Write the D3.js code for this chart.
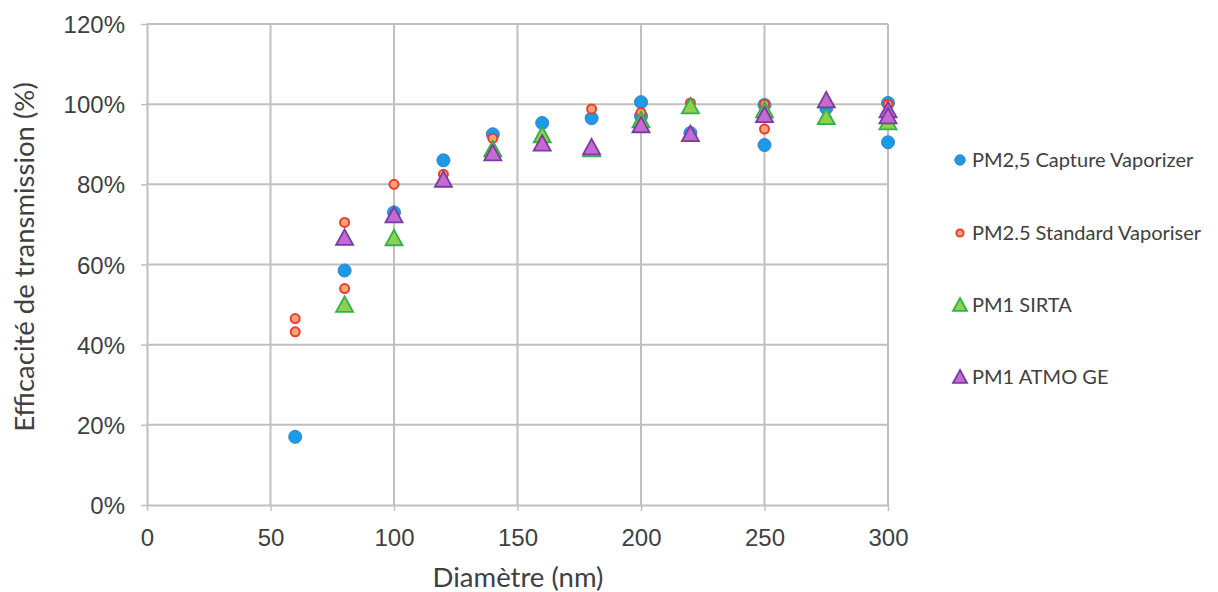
<!DOCTYPE html>
<html>
<head>
<meta charset="utf-8">
<script src="https://cdn.jsdelivr.net/npm/d3@7"></script>
<style>
  body { margin: 0; background: #fff; }
  svg { display: block; }
</style>
</head>
<body>
<div id="chart"></div>
<script>
// données (diamètre nm, efficacité %)
const captureX = [60, 80, 100, 120, 140, 160, 180, 200, 200, 220, 250, 250, 275, 300, 300];
const captureY = [17, 58.5, 73, 86, 92.5, 95.3, 96.5, 100.5, 97, 92.8, 99.8, 89.8, 99, 100.3, 90.5];

const standardX = [60, 60, 80, 80, 100, 120, 140, 180, 200, 220, 250, 250, 275, 300];
const standardY = [46.5, 43.2, 70.5, 54, 80, 82.5, 91.5, 98.8, 97.9, 100.3, 100, 93.8, 96.3, 100];

const sirtaX = [80, 100, 140, 160, 180, 200, 220, 250, 275, 300];
const sirtaY = [50, 66.6, 88.8, 92.3, 88.8, 96, 99.5, 98.5, 96.8, 95.5];

const atmoX = [80, 100, 120, 140, 160, 180, 200, 220, 250, 275, 300, 300];
const atmoY = [66.7, 72.3, 81.2, 87.8, 90.2, 89.3, 94.8, 92.6, 97.3, 101, 98.5, 97];

const xTicks = [0, 50, 100, 150, 200, 250, 300];
const yTicks = [0, 20, 40, 60, 80, 100, 120];

const series = [
    { name: "PM2,5 Capture Vaporizer", xs: captureX, ys: captureY, shape: "circle", r: 6.5, fill: "#1b9be6", stroke: "#3a7fd0" },
    { name: "PM2.5 Standard Vaporiser", xs: standardX, ys: standardY, shape: "circle", r: 4.5, fill: "#f2a875", stroke: "#f03a2e" },
    { name: "PM1 SIRTA", xs: sirtaX, ys: sirtaY, shape: "triangle", size: 17, fill: "#8fd14f", stroke: "#2fb24a" },
    { name: "PM1 ATMO GE", xs: atmoX, ys: atmoY, shape: "triangle", size: 17, fill: "#c46bd2", stroke: "#7a3a9e" }
];

const width = 1218;
const height = 592;
const margin = { left: 147, top: 24, right: 1218 - 888, bottom: 592 - 505 };

const svg = d3.select("#chart").append("svg")
    .attr("width", width)
    .attr("height", height);

const x = d3.scaleLinear().domain([0, 300]).range([margin.left, width - margin.right]);
const y = d3.scaleLinear().domain([0, 120]).range([height - margin.bottom, margin.top]);

const gridColor = "#c0c0c0";
const textColor = "#404040";
const titleFont = "Lato, 'Open Sans', sans-serif";

//Grille
svg.append("g")
    .selectAll("line")
    .data(xTicks.slice(1))
    .join("line")
    .attr("x1", d => x(d)).attr("x2", d => x(d))
    .attr("y1", y(120)).attr("y2", y(0))
    .attr("stroke", gridColor).attr("stroke-width", 2);

svg.append("g")
    .selectAll("line")
    .data(yTicks.slice(1))
    .join("line")
    .attr("x1", x(0)).attr("x2", x(300))
    .attr("y1", d => y(d)).attr("y2", d => y(d))
    .attr("stroke", gridColor).attr("stroke-width", 2);

//Axes
const xAxis = svg.append("g")
    .attr("transform", `translate(0,${y(0)})`)
    .call(d3.axisBottom(x).tickValues(xTicks).tickSize(6).tickSizeOuter(0).tickPadding(18));
const yAxis = svg.append("g")
    .attr("transform", `translate(${x(0)},0)`)
    .call(d3.axisLeft(y).tickValues(yTicks).tickSize(6).tickSizeOuter(0).tickPadding(16).tickFormat(d => d + "%"));

[xAxis, yAxis].forEach(a => {
    a.select(".domain").attr("stroke", gridColor).attr("stroke-width", 2);
    a.selectAll(".tick line").attr("stroke", gridColor).attr("stroke-width", 1.5);
    a.selectAll("text")
        .attr("fill", textColor)
        .style("font-family", "'Liberation Sans', Arial, sans-serif")
        .style("font-size", "24px");
});
xAxis.selectAll("text").attr("dy", "0.71em");
yAxis.selectAll("text").attr("dy", "0.36em");

//Titres des axes
svg.append("text")
    .attr("x", 518)
    .attr("y", 587)
    .attr("text-anchor", "middle")
    .attr("fill", textColor)
    .style("font-family", titleFont)
    .style("font-size", "27.5px")
    .text("Diamètre (nm)");

svg.append("text")
    .attr("transform", `translate(34,257) rotate(-90)`)
    .attr("text-anchor", "middle")
    .attr("fill", textColor)
    .style("font-family", titleFont)
    .style("font-size", "27.5px")
    .text("Efficacité de transmission (%)");

function drawMarker(g, s, cx, cy) {
    if (s.shape === "circle") {
        g.append("circle")
            .attr("cx", cx).attr("cy", cy).attr("r", s.r)
            .attr("fill", s.fill).attr("stroke", s.stroke).attr("stroke-width", s.r < 5 ? 2 : 1);
    } else {
        const h = s.size * 0.85;
        const w = s.size / 2;
        g.append("path")
            .attr("d", `M${cx},${cy - h / 2 - 1}L${cx + w},${cy + h / 2}L${cx - w},${cy + h / 2}Z`)
            .attr("fill", s.fill).attr("stroke", s.stroke).attr("stroke-width", 1.8)
            .attr("stroke-linejoin", "miter");
    }
}

//Points
series.forEach(s => {
    const g = svg.append("g");
    s.xs.forEach((d, i) => drawMarker(g, s, x(d), y(s.ys[i])));
});

//Légende
const legendY = [160, 233, 305, 377];
series.forEach((s, i) => {
    const g = svg.append("g");
    const ls = Object.assign({}, s, s.shape === "circle" ? { r: s.r * 0.8 } : { size: 14 });
    drawMarker(g, ls, 960, legendY[i]);
    g.append("text")
        .attr("x", 972)
        .attr("y", legendY[i])
        .attr("dy", "0.35em")
        .attr("fill", textColor)
        .style("font-family", titleFont)
        .style("font-size", "20px")
        .text(s.name);
});
</script>
</body>
</html>
